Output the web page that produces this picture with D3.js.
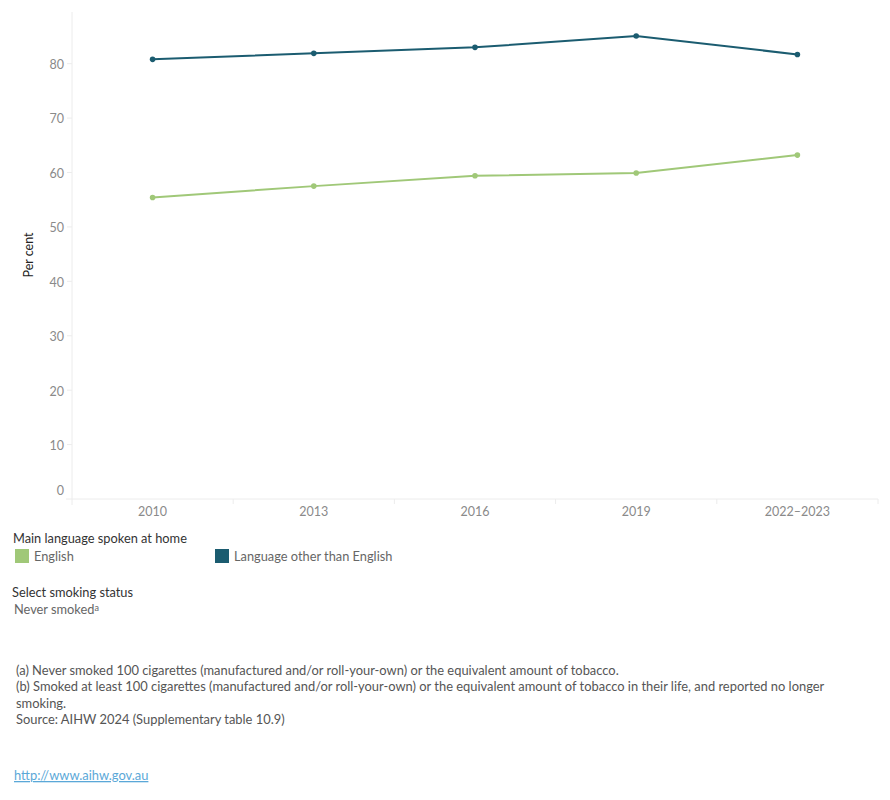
<!DOCTYPE html>
<html>
<head>
<meta charset="utf-8">
<script src="https://cdn.jsdelivr.net/npm/d3@7"></script>
<style>
  body { margin: 0; background: #fff; font-family: Lato, "Open Sans", sans-serif; }
  svg { display: block; }
</style>
</head>
<body>
<svg id="chart" width="890" height="800"></svg>
<script>
const years = ['2010', '2013', '2016', '2019', '2022–2023'];
const english = [55.4, 57.5, 59.4, 59.9, 63.2];
const otherLang = [80.8, 81.9, 83.0, 85.1, 81.7];
const yTicks = [0, 10, 20, 30, 40, 50, 60, 70, 80];
const seriesNames = ['English', 'Language other than English'];
const colors = ['#a0c878', '#1b5c70'];

const svg = d3.select('#chart');
const plot = {left: 72, right: 878, top: 12, bottom: 499};

const x = d3.scaleBand().domain(years).range([plot.left, plot.right]);
const y = d3.scaleLinear().domain([0, 89.5]).range([plot.bottom, plot.top]);

// axes lines
svg.append('line').attr('x1', plot.left).attr('x2', plot.left).attr('y1', plot.top).attr('y2', plot.bottom + 6)
  .attr('stroke', '#ececec');
svg.append('line').attr('x1', plot.left - 6).attr('x2', plot.right).attr('y1', plot.bottom).attr('y2', plot.bottom)
  .attr('stroke', '#ececec');

// y ticks
const yAxis = svg.append('g');
yTicks.forEach(function (t) {
  if (t > 0) {
    yAxis.append('line').attr('x1', plot.left - 5).attr('x2', plot.left)
      .attr('y1', y(t)).attr('y2', y(t)).attr('stroke', '#ececec');
  }
  yAxis.append('text')
    .attr('x', 64)
    .attr('y', t === 0 ? y(t) - 8 : y(t) + 1)
    .attr('dy', '0.35em')
    .attr('text-anchor', 'end')
    .attr('font-size', 12.5)
    .attr('fill', '#8a8a8a')
    .text(t);
});

svg.append('text')
  .attr('transform', 'translate(33,' + 255 + ') rotate(-90)')
  .attr('text-anchor', 'middle')
  .attr('font-size', 12.5)
  .attr('fill', '#222')
  .text('Per cent');

// x band separators and labels
const xAxis = svg.append('g');
years.forEach(function (yr) {
  const bx = x(yr) + x.bandwidth();
  xAxis.append('line').attr('x1', bx).attr('x2', bx).attr('y1', plot.bottom).attr('y2', plot.bottom + 5)
    .attr('stroke', '#ececec');
  xAxis.append('text')
    .attr('x', x(yr) + x.bandwidth() / 2)
    .attr('y', 516)
    .attr('text-anchor', 'middle')
    .attr('font-size', 12.5)
    .attr('fill', '#8a8a8a')
    .text(yr);
});

// lines
const line = d3.line()
  .x(function (d, i) { return x(years[i]) + x.bandwidth() / 2; })
  .y(function (d) { return y(d); });

[english, otherLang].forEach(function (vals, s) {
  svg.append('path')
    .datum(vals)
    .attr('fill', 'none')
    .attr('stroke', colors[s])
    .attr('stroke-width', 2)
    .attr('d', line);
  svg.selectAll('.pt' + s)
    .data(vals)
    .enter().append('circle')
    .attr('class', 'pt' + s)
    .attr('cx', function (d, i) { return x(years[i]) + x.bandwidth() / 2; })
    .attr('cy', function (d) { return y(d); })
    .attr('r', 2.8)
    .attr('fill', colors[s]);
});

// legend
svg.append('text').attr('x', 13).attr('y', 543).attr('font-size', 12.8).attr('fill', '#333')
  .text('Main language spoken at home');
const legX = [15, 215];
seriesNames.forEach(function (n, i) {
  svg.append('rect').attr('x', legX[i]).attr('y', 549).attr('width', 14).attr('height', 14)
    .attr('fill', colors[i]);
  svg.append('text').attr('x', legX[i] + 19).attr('y', 561).attr('font-size', 12.8)
    .attr('fill', '#666').text(n);
});

svg.append('text').attr('x', 12).attr('y', 597).attr('font-size', 12.8).attr('fill', '#333')
  .text('Select smoking status');
const ns = svg.append('text').attr('x', 14).attr('y', 614).attr('font-size', 12.8).attr('fill', '#666');
ns.append('tspan').text('Never smoked');
ns.append('tspan').attr('font-size', 9).attr('dy', -3).text('a');

// notes
const notes = [
  '(a) Never smoked 100 cigarettes (manufactured and/or roll-your-own) or the equivalent amount of tobacco.',
  '(b) Smoked at least 100 cigarettes (manufactured and/or roll-your-own) or the equivalent amount of tobacco in their life, and reported no longer',
  'smoking.',
  'Source: AIHW 2024 (Supplementary table 10.9)'
];
notes.forEach(function (t, i) {
  svg.append('text').attr('x', 16).attr('y', 675 + i * 16.3).attr('font-size', 12.9)
    .attr('fill', '#555').text(t);
});

svg.append('text').attr('x', 14).attr('y', 780).attr('font-size', 12.9)
  .attr('fill', '#5ba8d8').attr('text-decoration', 'underline')
  .text('http://www.aihw.gov.au');
</script>
</body>
</html>
